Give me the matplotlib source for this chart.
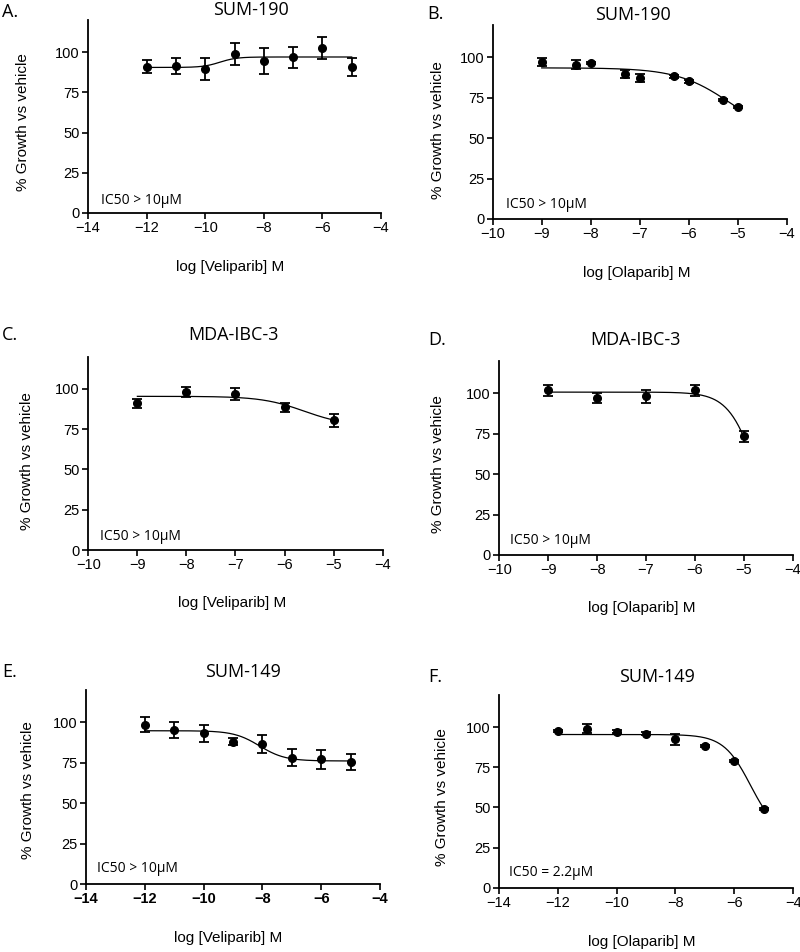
import numpy as np
import matplotlib
matplotlib.use("Agg")
import matplotlib.pyplot as plt

# ---------------- data ----------------
# Panel A: SUM-190, Veliparib
a_x = [-12, -11, -10, -9, -8, -7, -6, -5]
a_y = [91.0, 91.2, 89.6, 99.0, 94.6, 96.9, 102.7, 90.8]
a_err = [4.2, 4.9, 7.0, 6.7, 8.0, 6.5, 6.8, 5.6]
a_fit = (90.5, 97.0, -9.5, 1.5)   # left plateau, right plateau, midpoint, slope

# Panel B: SUM-190, Olaparib
b_x = [-9, -8.3, -8, -7.3, -7, -6.3, -6, -5.3, -5]
b_y = [96.9, 95.4, 96.5, 89.6, 87.4, 88.2, 85.1, 73.7, 69.4]
b_err = [2.5, 2.7, 0.8, 2.4, 2.4, 0.8, 0.8, 0.8, 0.8]
b_fit = (93.5, 50.0, -5.15, 0.8)

# Panel C: MDA-IBC-3, Veliparib
c_x = [-9, -8, -7, -6, -5]
c_y = [91.0, 97.9, 96.7, 88.5, 80.6]
c_err = [2.7, 3.1, 3.8, 3.0, 4.0]
c_fit = (95.4, 77.0, -5.6, 1.0)

# Panel D: MDA-IBC-3, Olaparib
d_x = [-9, -8, -7, -6, -5]
d_y = [101.7, 96.9, 97.9, 101.7, 73.2]
d_err = [3.5, 3.2, 4.0, 3.5, 3.6]
d_fit = (100.6, 0.0, -4.72, 1.5)

# Panel E: SUM-149, Veliparib
e_x = [-12, -11, -10, -9, -8, -7, -6, -5]
e_y = [98.5, 95.4, 93.2, 88.0, 86.5, 78.2, 77.2, 75.5]
e_err = [4.5, 5.0, 5.2, 2.3, 5.6, 5.4, 5.8, 4.9]
e_fit = (94.8, 76.1, -8.1, 1.0)

# Panel F: SUM-149, Olaparib
f_x = [-12, -11, -10, -9, -8, -7, -6, -5]
f_y = [97.5, 99.0, 97.1, 96.0, 92.3, 88.3, 78.8, 49.0]
f_err = [0.8, 2.8, 0.8, 0.8, 3.3, 0.8, 0.8, 0.8]
f_fit = (95.4, 32.0, -5.45, 0.95)

letters = ["A.", "B.", "C.", "D.", "E.", "F."]
titles = ["SUM-190", "SUM-190", "MDA-IBC-3", "MDA-IBC-3", "SUM-149", "SUM-149"]
xlabels = ["log [Veliparib] M", "log [Olaparib] M", "log [Veliparib] M",
           "log [Olaparib] M", "log [Veliparib] M", "log [Olaparib] M"]
ic50_texts = ["IC50 > 10\u00b5M", "IC50 > 10\u00b5M", "IC50 > 10\u00b5M",
              "IC50 > 10\u00b5M", "IC50 > 10\u00b5M", "IC50 = 2.2\u00b5M"]
xlims = [(-14, -4), (-10, -4), (-10, -4), (-10, -4), (-14, -4), (-14, -4)]
yticks = [0, 25, 50, 75, 100]

panels = [(a_x, a_y, a_err, a_fit), (b_x, b_y, b_err, b_fit),
          (c_x, c_y, c_err, c_fit), (d_x, d_y, d_err, d_fit),
          (e_x, e_y, e_err, e_fit), (f_x, f_y, f_err, f_fit)]

# ---------------- layout (pixels) ----------------
W, H = 800, 952
# axes: left, right, top, bottom in px
ax_px = [(88, 381, 20, 213), (492.7, 786.7, 25, 219),
         (88.3, 382.7, 356.7, 550), (499.3, 792.7, 360.7, 555),
         (86, 380, 690, 884), (498.7, 793.3, 695, 887.7)]
title_px = [(251, 10), (633, 15), (233, 335), (635, 340), (243, 672), (657, 677)]
letter_px = [(2, 12), (427, 14), (2, 335), (428, 340), (2, 672), (428, 677)]
ylab_px = [(23, 122), (438, 130), (27, 461), (438, 464), (28, 790), (442, 797)]
xlab_px = [(230, 267), (637, 273), (232, 603), (642, 608), (228, 938), (642, 942)]
ic_px = [(101, 201), (506, 204), (100, 537), (510, 540), (97, 868), (509, 873)]


def fx(x):
    return x / W


def fy(y):
    return 1 - y / H


humanist = ["Open Sans", "DejaVu Sans"]
arial = ["Liberation Sans", "DejaVu Sans"]

fig = plt.figure(figsize=(8, 9.52), dpi=100)

for i, (xs, ys, errs, fit) in enumerate(panels):
    l, r, t, b = ax_px[i]
    ax = fig.add_axes([fx(l), fy(b), (r - l) / W, (b - t) / H])
    for s in ["top", "right"]:
        ax.spines[s].set_visible(False)
    for s in ["left", "bottom"]:
        ax.spines[s].set_linewidth(1.3)
    ax.set_xlim(*xlims[i])
    ax.set_ylim(0, 120)
    ax.set_yticks(yticks)
    ax.set_xticks(np.arange(xlims[i][0], xlims[i][1] + 1, 2 if xlims[i][0] == -14 else 1))
    ax.tick_params(direction="out", length=4, width=1.2, labelsize=10.5, pad=2)
    for lab in ax.get_xticklabels() + ax.get_yticklabels():
        lab.set_family(arial)
    if i == 4:
        for lab in ax.get_xticklabels():
            lab.set_fontweight("bold")
    ax.spines["left"].set_bounds(0, 120)

    left, right, mid, slope = fit
    xx = np.linspace(min(xs), max(xs), 300)
    yy = right + (left - right) / (1 + 10 ** ((xx - mid) * slope))
    ax.plot(xx, yy, color="black", lw=0.9, zorder=2)
    ax.errorbar(xs, ys, yerr=errs, fmt="o", color="black", ms=5.5,
                elinewidth=1.3, capsize=3.6, capthick=1.3, zorder=3)

    fig.text(fx(title_px[i][0]), fy(title_px[i][1]), titles[i], ha="center",
             va="center", fontsize=13, family=humanist)
    fig.text(fx(letter_px[i][0]), fy(letter_px[i][1]), letters[i], ha="left",
             va="center", fontsize=13, family=humanist)
    fig.text(fx(ylab_px[i][0]), fy(ylab_px[i][1]), "% Growth vs vehicle",
             rotation=90, ha="center", va="center", fontsize=11, family=arial)
    fig.text(fx(xlab_px[i][0]), fy(xlab_px[i][1]), xlabels[i], ha="center",
             va="center", fontsize=11, family=arial)
    fig.text(fx(ic_px[i][0]), fy(ic_px[i][1]), ic50_texts[i], ha="left",
             va="center", fontsize=10, family=humanist)

fig.savefig("out.png", dpi=100)
